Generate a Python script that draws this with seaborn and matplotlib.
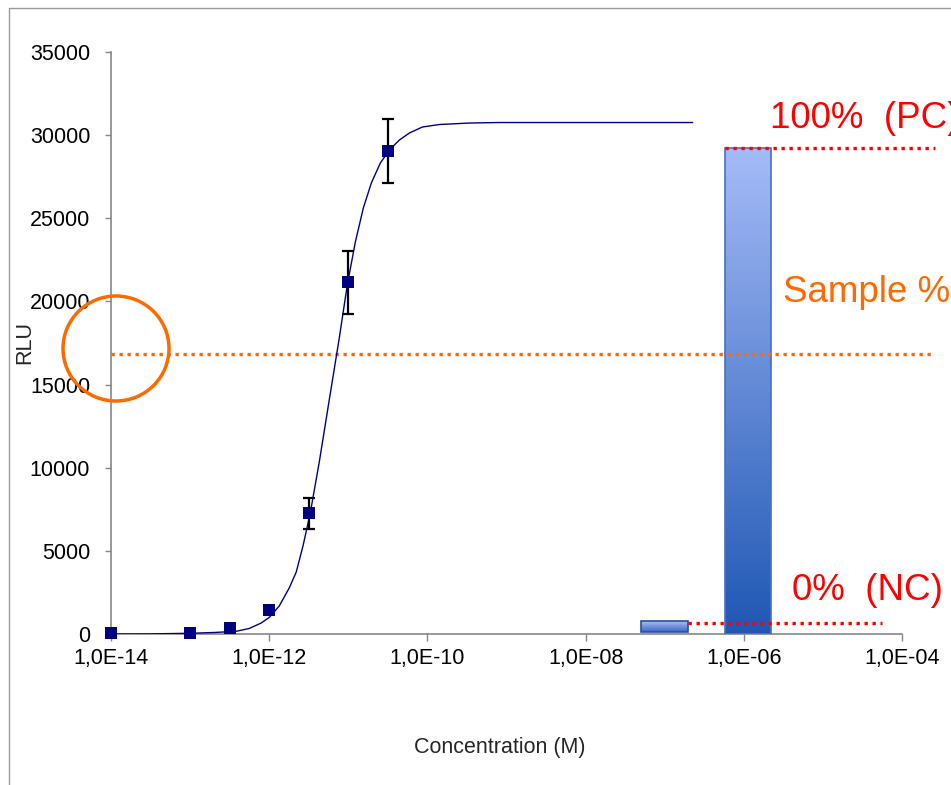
import numpy as np
import pandas as pd
import seaborn as sns
import matplotlib
matplotlib.use("Agg")
import matplotlib.pyplot as plt
from matplotlib.patches import Ellipse
from matplotlib.lines import Line2D
from matplotlib.colors import LinearSegmentedColormap

# ---------------- data ----------------
conc = [1e-14, 1e-13, 3.16e-13, 1e-12, 3.16e-12, 1e-11, 3.16e-11]
rlu = [50, 80, 380, 1440, 7260, 21150, 29050]
rlu_err = [0, 0, 0, 0, 930, 1900, 1950]

curve_log_conc = [-14.0, -13.519, -13.013, -12.696, -12.418, -12.253, -12.101, -12.0,
                  -11.873, -11.747, -11.658, -11.570, -11.481, -11.367, -11.241,
                  -11.114, -11.013, -10.911, -10.810, -10.709, -10.595, -10.481,
                  -10.354, -10.228, -10.063, -9.848, -9.468, -9.089, -6.646]
curve_rlu = [0, 6, 42, 90, 162, 331, 661, 992, 1684, 2766, 3728, 5352, 7276, 10343,
             14072, 17800, 20987, 23573, 25618, 27121, 28324, 29106, 29707, 30128,
             30489, 30639, 30729, 30759, 30759]

# control bars: (left log10 conc, right log10 conc, bottom, top)
nc_bar = (-7.30, -6.70, 100, 780)
pc_bar = (-6.24, -5.65, 0, 29230)

pc_level = 29230
nc_level = 660
sample_level = 16840

x_ticks = [1e-14, 1e-12, 1e-10, 1e-8, 1e-6, 1e-4]
x_tick_labels = ["1,0E-14", "1,0E-12", "1,0E-10", "1,0E-08", "1,0E-06", "1,0E-04"]
y_ticks = [0, 5000, 10000, 15000, 20000, 25000, 30000, 35000]

# ---------------- style ----------------
sns.set_theme(style="white")
plt.rcParams["font.family"] = ["Liberation Sans", "DejaVu Sans"]

W, H = 951, 785
fig = plt.figure(figsize=(W / 100, H / 100), dpi=100)
ax = fig.add_axes([111 / W, 1 - 634 / H, (902 - 111) / W, (634 - 52) / H])
ax.set_xscale("log")
ax.set_xlim(1e-14, 1e-4)
ax.set_ylim(0, 35000)

navy = "#000080"
red = "#ff0000"
orange = "#ff6a00"

# ---------------- gradient bars ----------------
def gradient_bar(left, right, bottom, top, c_top, c_bot, edge, n=120):
    cmap = LinearSegmentedColormap.from_list("g", [c_bot, c_top])
    lx, rx = 10 ** left, 10 ** right
    edges = np.linspace(bottom, top, n + 1)
    for i in range(n):
        ax.bar(lx, edges[i + 1] - edges[i], width=rx - lx, bottom=edges[i],
               align="edge", color=cmap(i / (n - 1)), linewidth=0, zorder=2)
    ax.bar(lx, top - bottom, width=rx - lx, bottom=bottom, align="edge",
           facecolor="none", edgecolor=edge, linewidth=1.2, zorder=3)

gradient_bar(*pc_bar, c_top="#a4baf7", c_bot="#1f57b3", edge="#4a6fc0")
gradient_bar(*nc_bar, c_top="#a9bdf3", c_bot="#3a62c2", edge="#2a4f9f")

# ---------------- reference lines ----------------
x_right_ext = 10 ** -3.582
ax.plot([10 ** pc_bar[0], x_right_ext], [pc_level, pc_level], color=red, lw=2.4,
        ls=(0, (1.0, 1.4)), dash_capstyle="butt", clip_on=False, zorder=4)
ax.plot([10 ** nc_bar[1], 10 ** -4.253], [nc_level, nc_level], color=red, lw=2.4,
        ls=(0, (1.0, 1.4)), dash_capstyle="butt", clip_on=False, zorder=4)
ax.plot([1e-14, x_right_ext], [sample_level, sample_level], color=orange, lw=2.4,
        ls=(0, (1.0, 1.4)), dash_capstyle="butt", clip_on=False, zorder=4)

# ---------------- fitted curve and data ----------------
curve_df = pd.DataFrame({"conc": [10 ** v for v in curve_log_conc], "rlu": curve_rlu})
sns.lineplot(data=curve_df, x="conc", y="rlu", ax=ax, color=navy, lw=1.0,
             sort=False, estimator=None, zorder=5)

pts = pd.DataFrame({"conc": conc, "rlu": rlu, "err": rlu_err})
ax.errorbar(pts["conc"], pts["rlu"], yerr=pts["err"], fmt="none", ecolor="black",
            elinewidth=1.6, capsize=4, capthick=1.6, zorder=6)
sns.scatterplot(data=pts, x="conc", y="rlu", ax=ax, marker="s", s=85, color=navy,
                edgecolor=navy, linewidth=0, zorder=7, clip_on=False)

# ---------------- annotations ----------------
ax.text(10 ** -5.671, 31030, "100%  (PC)", color=red, fontsize=26.5, ha="left",
        va="center", clip_on=False, zorder=8)
ax.text(10 ** -5.506, 20566, "Sample %", color=orange, fontsize=26.5, ha="left",
        va="center", clip_on=False, zorder=8)
ax.text(10 ** -5.392, 2586, "0%  (NC)", color=red, fontsize=26.5, ha="left",
        va="center", clip_on=False, zorder=8)

# circle highlight
fig.add_artist(Ellipse((116 / W, 1 - 348.5 / H), 106 / W, 105 / H,
                       transform=fig.transFigure, fill=False, edgecolor=orange,
                       linewidth=2.5, zorder=10))

# ---------------- axes ----------------
ax.set_xticks(x_ticks)
ax.set_xticklabels(x_tick_labels)
ax.minorticks_off()
ax.set_yticks(y_ticks)
ax.set_yticklabels([str(v) for v in y_ticks])
ax.tick_params(axis="x", which="major", direction="out", length=5, width=1.0,
               color="#868686", labelsize=15.5, labelcolor="black", pad=5, bottom=True)
ax.tick_params(axis="y", which="major", direction="out", length=4, width=1.0,
               color="#868686", labelsize=15.5, labelcolor="black", pad=11, left=True)
for side in ["top", "right"]:
    ax.spines[side].set_visible(False)
for side in ["left", "bottom"]:
    ax.spines[side].set_color("#868686")
    ax.spines[side].set_linewidth(1.2)
ax.set_xlabel("")
ax.set_ylabel("")
ax.grid(False)
ax.set_facecolor("none")

fig.text(500 / W, 1 - 748 / H, "Concentration (M)", fontsize=15.5, ha="center",
         va="center")
fig.text(25 / W, 1 - 343 / H, "RLU", fontsize=15.5, ha="center", va="center",
         rotation=90)

# chart border (partially visible)
fig.add_artist(Line2D([8.5 / W, 8.5 / W], [0, 1 - 7.5 / H], transform=fig.transFigure,
                      color="#9a9a9a", lw=1.0))
fig.add_artist(Line2D([8.5 / W, 1], [1 - 7.5 / H, 1 - 7.5 / H], transform=fig.transFigure,
                      color="#9a9a9a", lw=1.0))

fig.savefig("out.png", dpi=100, facecolor="white")
